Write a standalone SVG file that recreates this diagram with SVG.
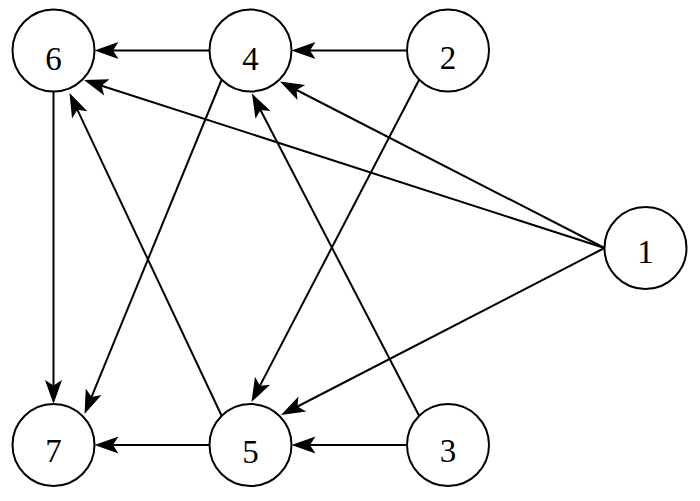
<svg xmlns="http://www.w3.org/2000/svg" width="700" height="501" viewBox="0 0 700 501">
<style>
.node circle{fill:#fff;stroke:#000;stroke-width:2}
.node text{font-family:"Liberation Serif","Times New Roman",serif;font-size:33px;text-anchor:middle;fill:#000}
#edges line{stroke:#000;stroke-width:2;fill:none;marker-end:url(#arr)}
</style>
<defs>
<marker id="arr" markerUnits="userSpaceOnUse" markerWidth="30" markerHeight="24" viewBox="-14 -12 30 24" refX="0" refY="0" orient="auto" overflow="visible">
<path d="M12,0 L-12,-8.5 L-6.5,0 L-12,8.5 Z" fill="#000"/>
</marker>
</defs>
<rect width="700" height="501" fill="#fff"/>
<g id="edges">
<line x1="209.5" y1="50.5" x2="106.5" y2="50.5"/>
<line x1="407" y1="50.5" x2="303.5" y2="50.5"/>
<line x1="209.5" y1="445" x2="106.5" y2="445"/>
<line x1="407" y1="445" x2="303.5" y2="445"/>
<line x1="53.5" y1="91.5" x2="53.5" y2="392"/>
<line x1="604.5" y1="248" x2="95.4" y2="83.7"/>
<line x1="604.5" y1="248" x2="290.7" y2="87"/>
<line x1="604.5" y1="248" x2="291.7" y2="409.5"/>
<line x1="419" y1="80" x2="257" y2="391.4"/>
<line x1="419" y1="415.5" x2="257.5" y2="104.2"/>
<line x1="221.5" y1="80" x2="89.1" y2="402.9"/>
<line x1="221.5" y1="415.5" x2="74.6" y2="103.9"/>
</g>
<g id="node6" class="node"><circle cx="53.5" cy="50.5" r="41"/><text x="53.5" y="69.5">6</text></g>
<g id="node4" class="node"><circle cx="250.5" cy="50.5" r="41"/><text x="250.5" y="69.5">4</text></g>
<g id="node2" class="node"><circle cx="448" cy="50.5" r="41"/><text x="448" y="68.5">2</text></g>
<g id="node1" class="node"><circle cx="645.5" cy="248" r="41"/><text x="645.5" y="263">1</text></g>
<g id="node7" class="node"><circle cx="53.5" cy="445" r="41"/><text x="53.5" y="462">7</text></g>
<g id="node5" class="node"><circle cx="250.5" cy="445" r="41"/><text x="250.5" y="462.5">5</text></g>
<g id="node3" class="node"><circle cx="448" cy="445" r="41"/><text x="448" y="462">3</text></g>
</svg>
